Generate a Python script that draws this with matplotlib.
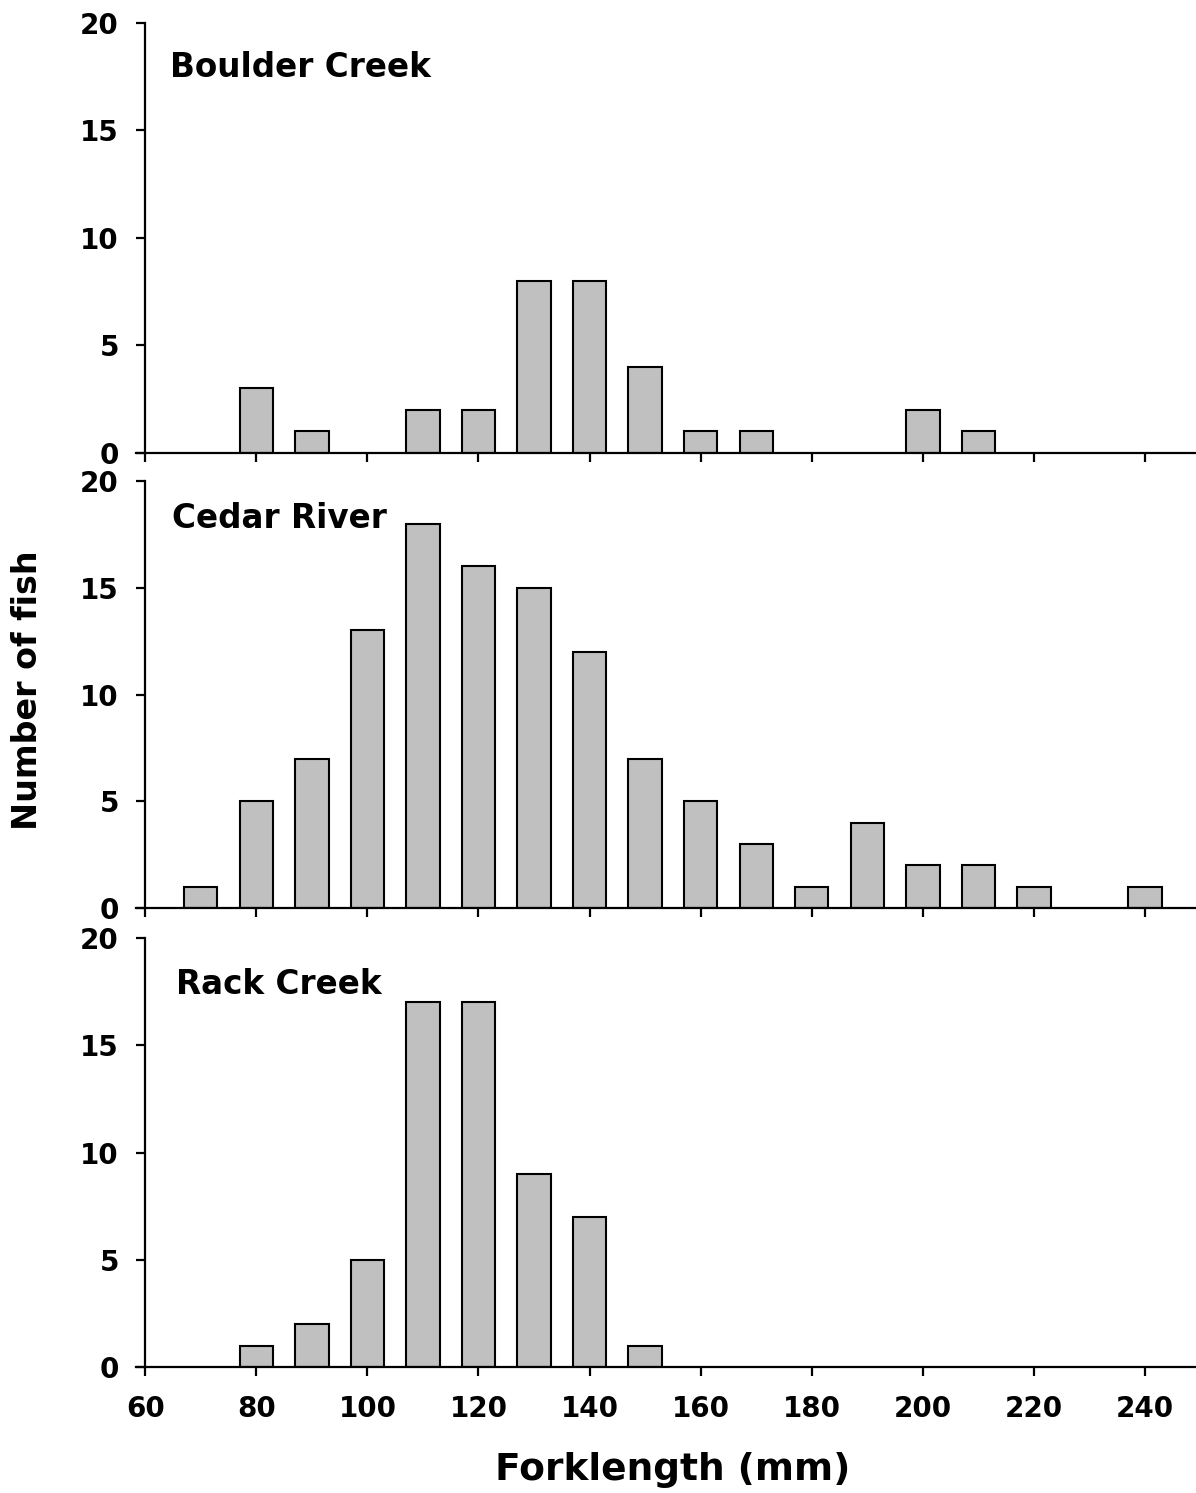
import matplotlib
matplotlib.use("Agg")
import matplotlib.pyplot as plt

plt.rcParams["font.family"] = ["DejaVu Sans"]
plt.rcParams["font.weight"] = "bold"

# forklength bins (mm) and counts per site
boulder_len = [80, 90, 110, 120, 130, 140, 150, 160, 170, 200, 210]
boulder_n = [3, 1, 2, 2, 8, 8, 4, 1, 1, 2, 1]

cedar_len = [70, 80, 90, 100, 110, 120, 130, 140, 150, 160, 170, 180, 190, 200, 210, 220, 240]
cedar_n = [1, 5, 7, 13, 18, 16, 15, 12, 7, 5, 3, 1, 4, 2, 2, 1, 1]

rack_len = [80, 90, 100, 110, 120, 130, 140, 150]
rack_n = [1, 2, 5, 17, 17, 9, 7, 1]

sites = ["Boulder Creek", "Cedar River", "Rack Creek"]
x_ticks = list(range(60, 241, 20))
y_ticks = [0, 5, 10, 15, 20]

fig = plt.figure(figsize=(11.96, 14.93), dpi=100)

# panel boxes in figure fraction: (bottom, height)
boxes = [(0.6966, 0.2880), (0.3918, 0.2860), (0.0844, 0.2873)]
title_y = [17.5, 17.8, 17.4]
title_x = [64.5, 64.9, 65.6]

panels = [(boulder_len, boulder_n), (cedar_len, cedar_n), (rack_len, rack_n)]

for i, ((xs, ys), (b, h)) in enumerate(zip(panels, boxes)):
    ax = fig.add_axes([0.114, b, 0.8875, h])
    ax.bar(xs, ys, width=6, color="#c0c0c0", edgecolor="black", linewidth=1.5, zorder=2)
    ax.set_xlim(58.4, 249.5)
    ax.set_ylim(0, 20)
    ax.set_xticks(x_ticks)
    ax.set_yticks(y_ticks)
    ax.spines["top"].set_visible(False)
    ax.spines["right"].set_visible(False)
    ax.spines["left"].set_position(("data", 60))
    ax.spines["left"].set_linewidth(1.6)
    ax.spines["bottom"].set_linewidth(1.6)
    ax.spines["bottom"].set_zorder(3)
    ax.tick_params(axis="both", direction="out", length=6.5, width=1.6, labelsize=20)
    ax.tick_params(axis="y", pad=12.5)
    ax.tick_params(axis="x", pad=14)
    if i < 2:
        ax.set_xticklabels([])
    ax.text(title_x[i], title_y[i], sites[i], fontsize=23.5, fontweight="bold", ha="left", va="baseline")

fig.text(0.5627, 0.0154, "Forklength (mm)", fontsize=27, fontweight="bold", ha="center", va="center")
fig.text(0.0226, 0.5378, "Number of fish", fontsize=24, fontweight="bold", rotation=90, ha="center", va="center")

plt.savefig("out.png", dpi=100)
